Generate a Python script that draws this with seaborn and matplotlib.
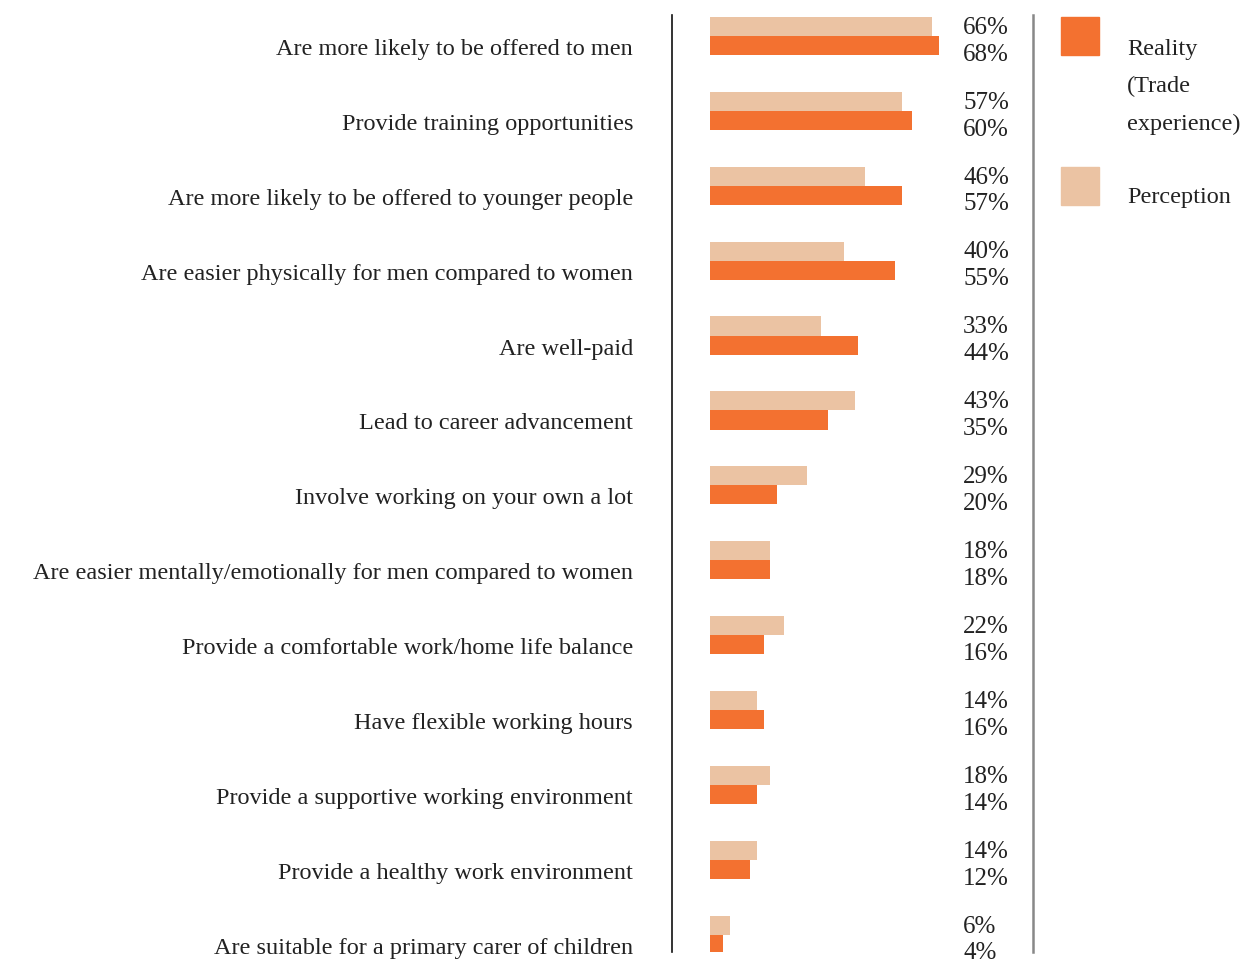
import seaborn as sns
import pandas as pd
import matplotlib.pyplot as plt
from matplotlib.patches import Rectangle

sns.set_theme(style="white")
plt.rcParams['font.family'] = ['Liberation Serif', 'DejaVu Serif']

categories = [
    "Are more likely to be offered to men",
    "Provide training opportunities",
    "Are more likely to be offered to younger people",
    "Are easier physically for men compared to women",
    "Are well-paid",
    "Lead to career advancement",
    "Involve working on your own a lot",
    "Are easier mentally/emotionally for men compared to women",
    "Provide a comfortable work/home life balance",
    "Have flexible working hours",
    "Provide a supportive working environment",
    "Provide a healthy work environment",
    "Are suitable for a primary carer of children",
]
perception = [66, 57, 46, 40, 33, 43, 29, 18, 22, 14, 18, 14, 6]
reality = [68, 60, 57, 55, 44, 35, 20, 18, 16, 16, 14, 12, 4]

c_reality = "#f37130"
c_perception = "#ebc3a3"
txt = "#222222"
fs = 17.5
fs_pct = 18

df = pd.DataFrame({
    "Statement": categories * 2,
    "Value": perception + reality,
    "Group": ["Perception"] * len(categories) + ["Reality"] * len(categories),
})

fig = plt.figure(figsize=(12.45, 9.59), dpi=100)
ax = fig.add_axes([672 / 1245, 7 / 959, 361 / 1245, 937 / 959])

sns.barplot(data=df, y="Statement", x="Value", hue="Group", order=categories,
            hue_order=["Perception", "Reality"],
            palette={"Perception": c_perception, "Reality": c_reality},
            orient="h", width=0.51, saturation=1, linewidth=0,
            legend=False, ax=ax)

ax.set_xlim(-11.3, 96.1)
ax.set_ylim(12.23, -0.28)
ax.set_xticks([])
ax.set_yticks([])
ax.set_xlabel("")
ax.set_ylabel("")
for s in ["top", "bottom"]:
    ax.spines[s].set_visible(False)
ax.spines["left"].set_color("#111111")
ax.spines["left"].set_linewidth(1.2)
ax.spines["right"].set_color("#888888")
ax.spines["right"].set_linewidth(1.8)

# category labels
for i, cat in enumerate(categories):
    ax.text(-0.108, i + 0.18, cat, transform=ax.get_yaxis_transform(),
            ha="right", va="center", fontsize=fs, color=txt)

# value labels
for i, (p, r) in enumerate(zip(perception, reality)):
    ax.text(75.3, i - 0.11, f"{p}%", ha="left", va="center", fontsize=fs_pct, color=txt)
    ax.text(75.3, i + 0.25, f"{r}%", ha="left", va="center", fontsize=fs_pct, color=txt)

# legend
W, H = 1245, 959
fig.patches.append(Rectangle((1061 / W, 1 - 55 / H), 38 / W, 38 / H,
                             transform=fig.transFigure, color=c_reality))
fig.patches.append(Rectangle((1061 / W, 1 - 205 / H), 38 / W, 38 / H,
                             transform=fig.transFigure, color=c_perception))
for k, line in enumerate(["Reality", "(Trade", "experience)"]):
    fig.text(1127 / W, 1 - (49 + 37.5 * k) / H, line, ha="left", va="center",
             fontsize=fs, color=txt)
fig.text(1127 / W, 1 - 198 / H, "Perception", ha="left", va="center",
         fontsize=fs, color=txt)

fig.savefig("out.png", dpi=100, facecolor="white")
